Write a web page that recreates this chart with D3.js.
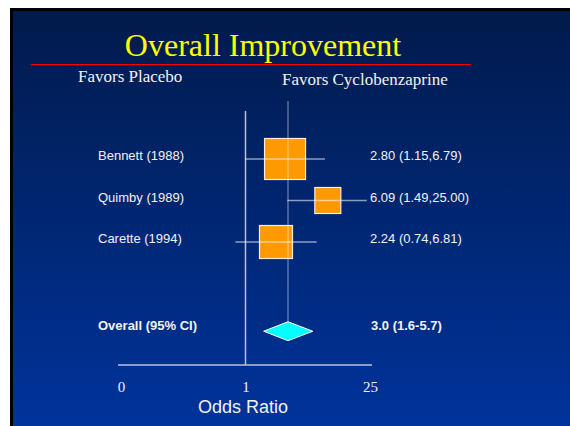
<!DOCTYPE html>
<html>
<head>
<meta charset="utf-8">
<script src="https://cdn.jsdelivr.net/npm/d3@7"></script>
<style>
  html, body { margin: 0; padding: 0; background: #fff; }
  svg { display: block; }
</style>
</head>
<body>
<div id="display"></div>
<script>
const w = 570;
const h = 426;

// studies, as printed on the slide
const studies = ['Bennett (1988)', 'Quimby (1989)', 'Carette (1994)'];
const resultText = ['2.80 (1.15,6.79)', '6.09 (1.49,25.00)', '2.24 (0.74,6.81)'];
// odds ratios and CI ends as they are drawn on the slide
const orPlot = [2.78, 8.4, 2.2];
const loPlot = [1.0, 2.95, 0.77];
const hiPlot = [7.8, 23, 6.3];
// relative study weight (box area)
const weights = [48.8, 19.6, 31.6];

const overallLabel = 'Overall (95% CI)';
const overallText = '3.0 (1.6-5.7)';
const overall = { or: 3.0, lo: 1.6, hi: 5.7 };

const tickValues = [0.04, 1, 25];
const tickLabels = ['0', '1', '25'];

const svg = d3.select('#display').append('svg')
    .attr('width', w)
    .attr('height', h);

const defs = svg.append('defs');
const grad = defs.append('linearGradient')
    .attr('id', 'bg')
    .attr('x1', 0).attr('y1', 0)
    .attr('x2', 0).attr('y2', 1);
grad.append('stop').attr('offset', '0%').attr('stop-color', '#011a4b');
grad.append('stop').attr('offset', '100%').attr('stop-color', '#00339b');

// slide frame
svg.append('rect')
    .attr('x', 10).attr('y', 8)
    .attr('width', w - 10).attr('height', h - 8)
    .attr('fill', '#000');
svg.append('rect')
    .attr('x', 13).attr('y', 11)
    .attr('width', w - 13).attr('height', h - 11)
    .attr('fill', 'url(#bg)');

// title + rule
svg.append('text')
    .attr('x', 263).attr('y', 56)
    .attr('text-anchor', 'middle')
    .style('font-family', "'Liberation Serif', 'Times New Roman', serif")
    .style('font-size', '32px')
    .style('fill', '#ffff00')
    .text('Overall Improvement');
svg.append('line')
    .attr('x1', 31).attr('x2', 471)
    .attr('y1', 64.5).attr('y2', 64.5)
    .attr('stroke', '#ff0000')
    .attr('stroke-width', 1.2);

const serif = "'Liberation Serif', 'Times New Roman', serif";
const sans = "'Liberation Sans', Arial, sans-serif";

svg.append('text')
    .attr('x', 78).attr('y', 82)
    .style('font-family', serif).style('font-size', '17px')
    .style('fill', '#f2f2f2')
    .text('Favors Placebo');
svg.append('text')
    .attr('x', 282).attr('y', 85)
    .style('font-family', serif).style('font-size', '17px')
    .style('fill', '#f2f2f2')
    .text('Favors Cyclobenzaprine');

// scales
const xScale = d3.scaleLog().domain([0.04, 25]).range([121, 370]);
const yScale = d3.scaleLinear().domain([0, 1]).range([159, 200.5]);
const sizeScale = d3.scaleSqrt().domain([0, d3.max(weights)]).range([0, 41]);
const axisY = 365;
const overallY = yScale(4.15);

// x axis, no tick marks
const xAxis = d3.axisBottom(xScale)
    .tickValues(tickValues)
    .tickFormat((d, i) => tickLabels[i])
    .tickSize(0)
    .tickPadding(16);
const xAxisGroup = svg.append('g')
    .attr('class', 'xaxisgroup')
    .attr('transform', `translate(0,${axisY})`)
    .call(xAxis);
xAxisGroup.select('.domain')
    .attr('d', `M${xScale.range()[0] - 3},0H${xScale.range()[1] + 2}`)
    .attr('stroke', '#b8c2dc')
    .attr('stroke-width', 1.5);
xAxisGroup.selectAll('.tick text')
    .style('font-family', serif)
    .style('font-size', '15px')
    .style('fill', '#f2f2f2');

svg.append('text')
    .attr('x', 243).attr('y', 413)
    .attr('text-anchor', 'middle')
    .style('font-family', sans).style('font-size', '18px')
    .style('fill', '#f2f2f2')
    .text('Odds Ratio');

// line of no effect
svg.append('line')
    .attr('x1', xScale(1)).attr('x2', xScale(1))
    .attr('y1', 111).attr('y2', axisY)
    .attr('stroke', '#b8c2dc')
    .attr('stroke-width', 1.5);

const rows = studies.map((s, i) => ({
    name: s,
    text: resultText[i],
    or: orPlot[i],
    lo: loPlot[i],
    hi: hiPlot[i],
    wt: weights[i],
    y: yScale(i)
}));

// boxes
svg.selectAll('.box')
    .data(rows)
    .enter()
    .append('rect')
    .attr('class', 'box')
    .attr('x', (d) => xScale(d.or) - sizeScale(d.wt) / 2)
    .attr('y', (d) => d.y - sizeScale(d.wt) / 2)
    .attr('width', (d) => sizeScale(d.wt))
    .attr('height', (d) => sizeScale(d.wt))
    .attr('fill', '#ff9900')
    .attr('stroke', '#ffeedd')
    .attr('stroke-width', 1.2);

// confidence intervals, drawn over the boxes
svg.selectAll('.ci')
    .data(rows)
    .enter()
    .append('line')
    .attr('class', 'ci')
    .attr('x1', (d) => xScale(d.lo))
    .attr('x2', (d) => xScale(d.hi))
    .attr('y1', (d) => d.y)
    .attr('y2', (d) => d.y)
    .attr('stroke', '#ffffff')
    .attr('stroke-opacity', 0.55)
    .attr('stroke-width', 1.5);

// pooled estimate line
svg.append('line')
    .attr('x1', xScale(overall.or)).attr('x2', xScale(overall.or))
    .attr('y1', 101).attr('y2', overallY - 9.5)
    .attr('stroke', '#ffffff')
    .attr('stroke-opacity', 0.35)
    .attr('stroke-width', 1.5);

// diamond
svg.append('path')
    .attr('d', `M${xScale(overall.lo)},${overallY}L${xScale(overall.or)},${overallY - 9.5}L${xScale(overall.hi)},${overallY}L${xScale(overall.or)},${overallY + 9.5}Z`)
    .attr('fill', '#00ffff')
    .attr('stroke', '#ffffff')
    .attr('stroke-width', 1);

// row labels
svg.selectAll('.study')
    .data(rows)
    .enter()
    .append('text')
    .attr('class', 'study')
    .attr('x', 98)
    .attr('y', (d) => d.y + 1)
    .style('font-family', sans).style('font-size', '13px')
    .style('fill', '#f2f2f2')
    .text((d) => d.name);
svg.selectAll('.result')
    .data(rows)
    .enter()
    .append('text')
    .attr('class', 'result')
    .attr('x', 370)
    .attr('y', (d) => d.y + 1)
    .style('font-family', sans).style('font-size', '13px')
    .style('fill', '#f2f2f2')
    .text((d) => d.text);

svg.append('text')
    .attr('x', 98).attr('y', overallY - 1)
    .style('font-family', sans).style('font-size', '13px')
    .style('font-weight', 'bold')
    .style('fill', '#f2f2f2')
    .text(overallLabel);
svg.append('text')
    .attr('x', 371).attr('y', overallY - 1)
    .style('font-family', sans).style('font-size', '13px')
    .style('font-weight', 'bold')
    .style('fill', '#f2f2f2')
    .text(overallText);
</script>
</body>
</html>
